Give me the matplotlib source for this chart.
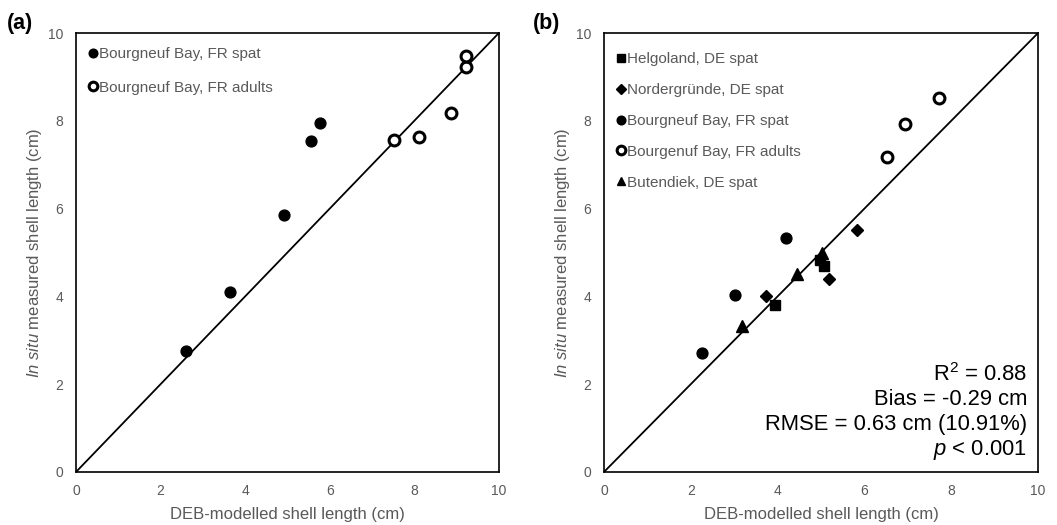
import numpy as np
import matplotlib
matplotlib.use('Agg')
import matplotlib.pyplot as plt

plt.rcParams['font.family'] = ['Liberation Sans', 'DejaVu Sans']
plt.rcParams['mathtext.fontset'] = 'custom'
plt.rcParams['mathtext.rm'] = 'Liberation Sans'
plt.rcParams['mathtext.it'] = 'Liberation Sans:italic'

######################################################################
# data (cm)

# panel (a)
a_spat_x = [2.60, 3.64, 4.93, 5.55, 5.78]
a_spat_y = [2.75, 4.10, 5.86, 7.54, 7.94]
a_adult_x = [7.53, 8.12, 8.88, 9.23, 9.23]
a_adult_y = [7.56, 7.63, 8.17, 9.23, 9.47]

# panel (b)
helgo_x = [3.94, 4.98, 5.08]
helgo_y = [3.81, 4.82, 4.70]
norder_x = [3.74, 5.18, 5.82]
norder_y = [4.01, 4.40, 5.51]
b_spat_x = [2.25, 3.03, 4.20]
b_spat_y = [2.71, 4.03, 5.34]
b_adult_x = [6.53, 6.93, 7.73]
b_adult_y = [7.17, 7.93, 8.51]
buten_x = [3.17, 4.45, 5.02]
buten_y = [3.32, 4.52, 5.00]

stats_lines = ['R$^2$ = 0.88', 'Bias = -0.29 cm',
               'RMSE = 0.63 cm (10.91%)', '$p$ < 0.001']

ticks = [0, 2, 4, 6, 8, 10]
grey = '#595959'

######################################################################

def style_axes(ax, letter):
    ax.set_xlim(0, 10)
    ax.set_ylim(0, 10)
    ax.set_xticks(ticks)
    ax.set_yticks(ticks)
    ax.tick_params(length=0, labelsize=10, labelcolor=grey)
    ax.tick_params(axis='x', pad=9)
    ax.tick_params(axis='y', pad=9)
    for s in ax.spines.values():
        s.set_linewidth(1.2)
        s.set_color('black')
    ax.plot([0, 10], [0, 10], color='black', lw=1.3, zorder=1)
    ax.set_xlabel('DEB-modelled shell length (cm)', fontsize=12,
                  color=grey, labelpad=6)
    ax.set_ylabel(r'$\mathit{In\ situ}$ measured shell length (cm)',
                  fontsize=12, color=grey, labelpad=3)
    ax.text(-0.163, 0.997, letter, transform=ax.transAxes, fontsize=15.5,
            fontweight='bold', ha='left', va='bottom')


def add_legend(ax, spacing, top):
    leg = ax.legend(loc='upper left', frameon=False, fontsize=11,
                    handlelength=0.6, handletextpad=0.1, labelspacing=spacing,
                    borderaxespad=0.4, markerscale=0.8,
                    bbox_to_anchor=(0.0, top))
    for t in leg.get_texts():
        t.set_color(grey)


fig = plt.figure(figsize=(10.57, 5.25), dpi=100)
ax1 = fig.add_axes([0.0719, 0.101, 0.400, 0.836])
ax2 = fig.add_axes([0.5714, 0.101, 0.4106, 0.836])

ms = 7.8
open_kw = dict(mfc='white', mec='black', mew=2.2, ls='none')
fill_kw = dict(color='black', ls='none')

ax1.plot(a_spat_x, a_spat_y, 'o', ms=ms, label='Bourgneuf Bay, FR spat', **fill_kw)
ax1.plot(a_adult_x, a_adult_y, 'o', ms=ms, label='Bourgneuf Bay, FR adults', **open_kw)
style_axes(ax1, '(a)')
add_legend(ax1, 1.25, 0.995)

ax2.plot(helgo_x, helgo_y, 's', ms=7.5, label='Helgoland, DE spat', **fill_kw)
ax2.plot(norder_x, norder_y, 'D', ms=6, label='Nordergründe, DE spat', **fill_kw)
ax2.plot(b_spat_x, b_spat_y, 'o', ms=ms, label='Bourgneuf Bay, FR spat', **fill_kw)
ax2.plot(b_adult_x, b_adult_y, 'o', ms=ms, label='Bourgenuf Bay, FR adults', **open_kw)
ax2.plot(buten_x, buten_y, '^', ms=8, label='Butendiek, DE spat', **fill_kw)
style_axes(ax2, '(b)')
add_legend(ax2, 1.1, 0.984)

ax2.text(0.975, 0.022, '\n'.join(stats_lines), transform=ax2.transAxes,
         ha='right', va='bottom', multialignment='right', fontsize=15.8,
         linespacing=1.22)

fig.savefig('out.png', dpi=100)
